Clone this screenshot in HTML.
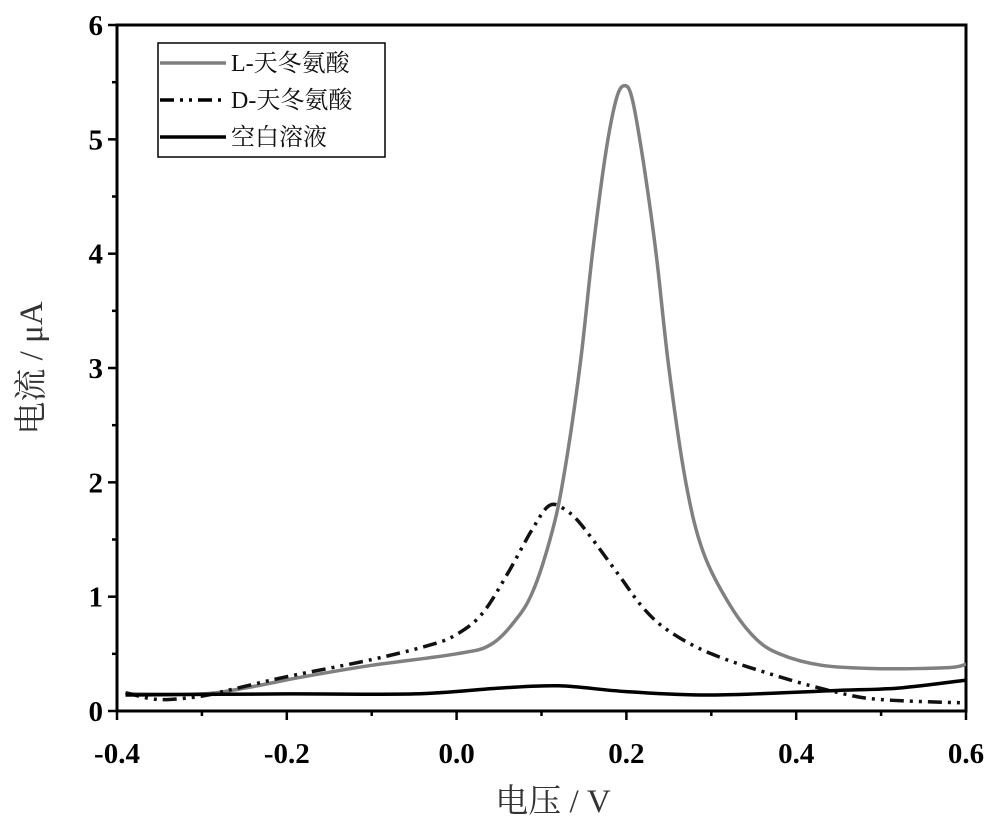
<!DOCTYPE html>
<html><head><meta charset="utf-8"><style>
body{margin:0;background:#fff;}
svg{display:block;}
.t{font-family:"Liberation Serif","Noto Serif CJK SC",serif;font-weight:bold;font-size:29px;}
.c{font-family:"Liberation Serif","Noto Serif CJK SC",serif;}
</style></head><body>
<svg id="s" width="1000" height="831" xmlns="http://www.w3.org/2000/svg">
<rect x="117" y="25" width="849" height="686" fill="none" stroke="#000" stroke-width="3"/>
<g id="ticks" stroke="#000" stroke-width="2.5"></g>
<g class="t" text-anchor="end" id="yl"></g>
<g class="t" text-anchor="middle" id="xl"></g>
<g id="curves" fill="none" stroke-linejoin="round"></g>
<text class="c" x="553" y="812" font-size="33" text-anchor="middle" fill="#333">电压 / V</text>
<text class="c" transform="translate(42,368) rotate(-90)" font-size="33" text-anchor="middle" fill="#333">电流 / μA</text>
<rect x="158" y="43" width="227" height="114" fill="#fff" stroke="#000" stroke-width="1.5"/>
<line x1="160" y1="63" x2="226" y2="63" stroke="#808080" stroke-width="3.5"/>
<line x1="160" y1="100" x2="226" y2="100" stroke="#000" stroke-width="3.5" stroke-dasharray="14,6,3,6,3,6"/>
<line x1="160" y1="137" x2="226" y2="137" stroke="#000" stroke-width="3.5"/>
<g class="c" font-size="24" fill="#111">
<text x="231" y="71">L-天冬氨酸</text>
<text x="231" y="108">D-天冬氨酸</text>
<text x="231" y="145">空白溶液</text>
</g>
</svg>
<script>
const X=v=>117+(v+0.4)*849, Y=v=>711-v*114.33;
const ns="http://www.w3.org/2000/svg";
function el(p,t,a,txt){const e=document.createElementNS(ns,t);for(const k in a)e.setAttribute(k,a[k]);if(txt!=null)e.textContent=txt;document.getElementById(p).appendChild(e);}
for(let i=0;i<=12;i++){const y=Y(i/2),L=i%2?5:9;el("ticks","line",{x1:117-L,y1:y,x2:117,y2:y});}
for(let i=0;i<=6;i++)el("yl","text",{x:103,y:Y(i)+10},i);
for(let i=0;i<=10;i++){const x=X(-0.4+i/10),L=i%2?5:9;el("ticks","line",{x1:x,y1:711,x2:x,y2:711+L});}
["-0.4","-0.2","0.0","0.2","0.4","0.6"].forEach((s,i)=>el("xl","text",{x:X(-0.4+i*0.2),y:763},s));
function path(pts,st){const p=pts.map(q=>[X(q[0]),Y(q[1])]);let d="M"+p[0][0].toFixed(1)+","+p[0][1].toFixed(1);
for(let i=0;i<p.length-1;i++){const p0=p[Math.max(0,i-1)],p1=p[i],p2=p[i+1],p3=p[Math.min(p.length-1,i+2)];
const c1=[p1[0]+(p2[0]-p0[0])/6,p1[1]+(p2[1]-p0[1])/6],c2=[p2[0]-(p3[0]-p1[0])/6,p2[1]-(p3[1]-p1[1])/6];
d+="C"+[c1,c2,p2].map(c=>c[0].toFixed(1)+","+c[1].toFixed(1)).join(" ");}
el("curves","path",Object.assign({d},st));}
path([[-0.39,0.15],[-0.3,0.15],[-0.25,0.2],[-0.18,0.3],[-0.1,0.4],[0,0.5],[0.04,0.58],[0.07,0.8],[0.09,1.05],[0.11,1.5],[0.125,2],[0.145,3],[0.16,4],[0.175,4.85],[0.188,5.35],[0.198,5.47],[0.207,5.35],[0.22,4.8],[0.235,4],[0.25,3],[0.27,2],[0.29,1.4],[0.32,0.95],[0.35,0.65],[0.38,0.5],[0.43,0.4],[0.5,0.37],[0.58,0.38],[0.6,0.41]],{stroke:"#808080","stroke-width":3.5});
path([[-0.39,0.16],[-0.35,0.1],[-0.3,0.13],[-0.27,0.18],[-0.2,0.3],[-0.1,0.45],[-0.03,0.58],[0,0.67],[0.03,0.85],[0.06,1.2],[0.09,1.6],[0.11,1.8],[0.13,1.75],[0.15,1.6],[0.19,1.2],[0.22,0.9],[0.25,0.7],[0.3,0.5],[0.38,0.3],[0.45,0.16],[0.5,0.1],[0.6,0.07]],{stroke:"#111","stroke-width":3.5,"stroke-dasharray":"14,6,3,6,3,6"});
path([[-0.39,0.14],[-0.2,0.15],[-0.05,0.15],[0.05,0.2],[0.12,0.22],[0.2,0.17],[0.3,0.14],[0.45,0.18],[0.52,0.2],[0.6,0.27]],{stroke:"#000","stroke-width":3.5});
</script>
</body></html>
